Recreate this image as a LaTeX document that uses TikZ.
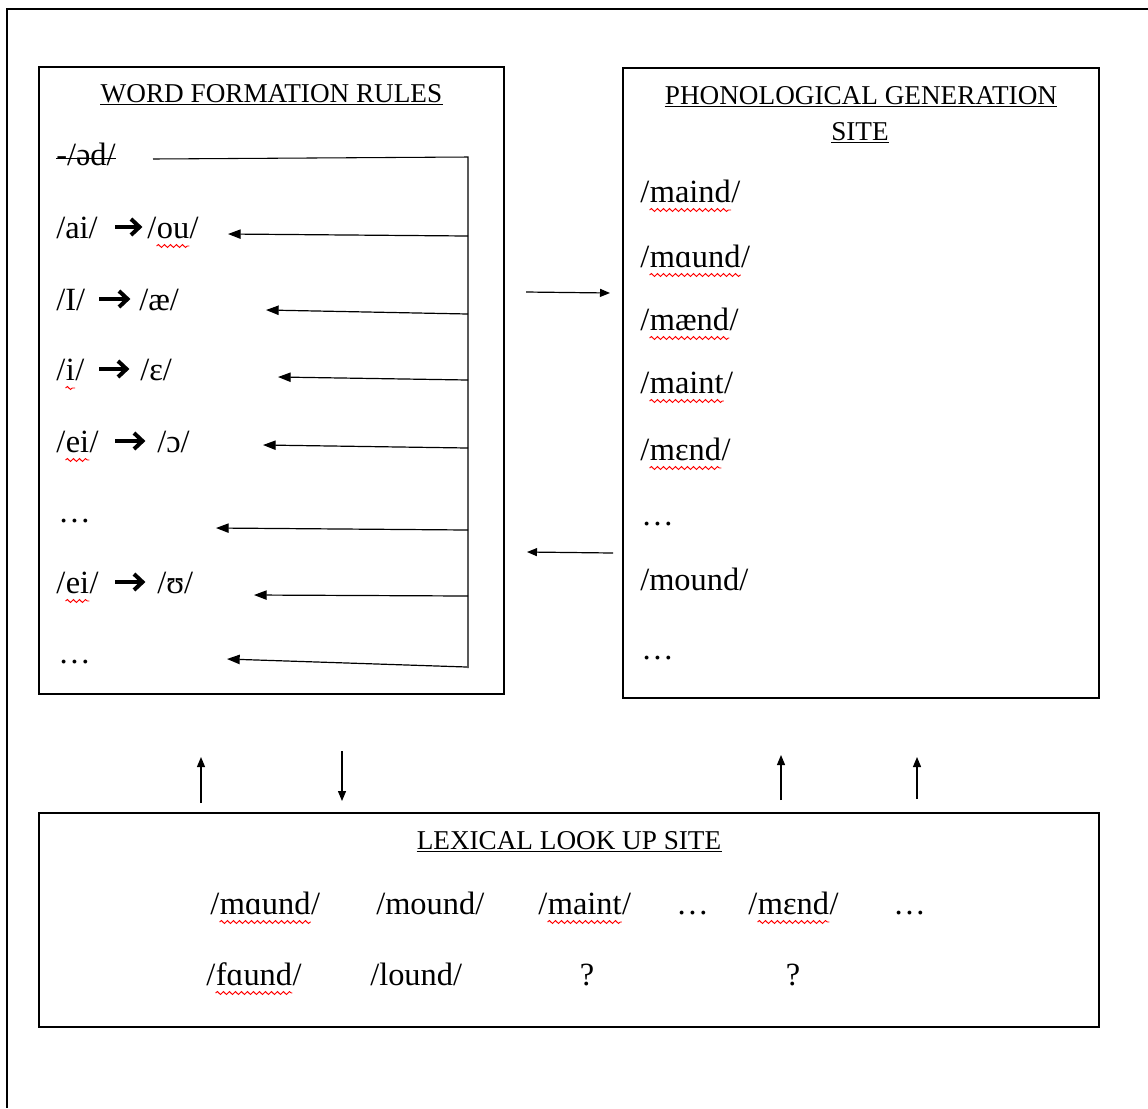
\documentclass[tikz,border=0pt]{standalone}
\usepackage{fontspec}
\setmainfont{Liberation Serif}
\usetikzlibrary{arrows.meta,fit,decorations.pathmorphing}
\newcommand\wv[1]{\draw[wave] ([yshift=-6pt]#1.base west) -- ([yshift=-6pt]#1.base east);}
\newcommand\ul[1]{\draw[plain] ([yshift=-2.2pt]#1.base west) -- ([yshift=-2.2pt]#1.base east);}
% thick text arrow glyph: x-start, x-end, y-centre (pixels)
\newcommand\tarr[3]{\draw[tshaft] (#1,#3) -- (#2-4,#3); \draw[thead] (#2-12,#3-8) -- (#2-3.5,#3) -- (#2-12,#3+8);}
\begin{document}
\begin{tikzpicture}[x=0.75pt,y=-0.75pt,
  box/.style={draw, line width=0.9pt, inner sep=0pt, rectangle},
  txt/.style={anchor=base west, inner sep=0pt, font=\fontsize{24.3}{28}\selectfont},
  ctxt/.style={anchor=base, inner sep=0pt, font=\fontsize{24.3}{28}\selectfont},
  ttl/.style={anchor=base, inner sep=0pt, font=\fontsize{20.4}{24}\selectfont},
  plain/.style={line width=0.8pt},
  tshaft/.style={line width=3pt},
  thead/.style={line width=3pt, miter limit=10},
  wave/.style={red, line width=0.7pt, decorate, decoration={snake, amplitude=1.1pt, segment length=4.5pt}},
  conn/.style={line width=0.9pt, -{Triangle[length=9.5pt,width=7pt]}},
  sconn/.style={line width=0.9pt, -{Triangle[length=7.5pt,width=6pt]}}]
\useasboundingbox (0,0) rectangle (1148,1108);
% outer frame (cropped)
\draw[line width=0.9pt] (1148,9) -- (7,9) -- (7,1108);

% boxes
\node[box, fit={(39,67) (504,694)}] (wfr) {};
\node[box, fit={(623,68) (1099,698)}] (pgs) {};
\node[box, fit={(39,813) (1099,1027)}] (lls) {};

% WFR contents
\node[ttl] (wfrt) at (271.5,102) {WORD FORMATION RULES};
\ul{wfrt}
\node[txt] (r0) at (56,165) {-/əd/};
\draw[plain] ([yshift=5pt]r0.base west) -- ([yshift=5pt]r0.base east);
% line 1
\node[txt] (r1a) at (56,238) {/ai/};
\tarr{115}{143}{227}
\node[txt] (r1b) at (147,238) {/};
\node[txt] (r1) at (r1b.base east) {ou};
\node[txt] (r1c) at (r1.base east) {/};
\wv{r1}
% line 2
\node[txt] (r2a) at (56,310) {/I/};
\tarr{99}{131}{299}
\node[txt] (r2b) at (139,310) {/æ/};
% line 3
\node[txt] (r3a) at (56,380) {/};
\node[txt] (r3) at (r3a.base east) {i};
\node[txt] (r3c) at (r3.base east) {/};
\tarr{99}{130}{369}
\node[txt] (r3d) at (140,380) {/ɛ/};
\wv{r3}
% line 4
\node[txt] (r4a) at (56,452) {/};
\node[txt] (r4) at (r4a.base east) {ei};
\node[txt] (r4c) at (r4.base east) {/};
\tarr{115}{146}{441}
\node[txt] (r4d) at (157,452) {/ɔ/};
\wv{r4}
\node[txt] (r5) at (58,522) {…};
% line 6
\node[txt] (r6a) at (56,593) {/};
\node[txt] (r6) at (r6a.base east) {ei};
\node[txt] (r6c) at (r6.base east) {/};
\tarr{115}{146}{582}
\node[txt] (r6d) at (157,593) {/ʊ/};
\wv{r6}
\node[txt] (r7) at (58,663) {…};

% bus
\coordinate (ls) at (153,159);
\coordinate (bt) at (468,157);
\coordinate (bb) at (468,668);
\draw[plain] (ls) -- (bt) -- (bb);
\coordinate (b1) at (468,236); \coordinate (t1) at (228,234);
\coordinate (b2) at (468,314); \coordinate (t2) at (266,310);
\coordinate (b3) at (468,380); \coordinate (t3) at (278,377);
\coordinate (b4) at (468,448); \coordinate (t4) at (263,445);
\coordinate (b5) at (468,530); \coordinate (t5) at (216,528);
\coordinate (b6) at (468,596); \coordinate (t6) at (254,595);
\coordinate (b7) at (467,667); \coordinate (t7) at (227,659);
\foreach \i in {1,...,7} {\draw[conn] (b\i) -- (t\i);}

% PGS contents
\node[ttl] (pgst1) at (861,104) {PHONOLOGICAL GENERATION};
\ul{pgst1}
\node[ttl] (pgst2) at (860,140) {SITE};
\ul{pgst2}
\node[txt] (p1a) at (640,202) {/};
\node[txt] (p1) at (p1a.base east) {maind};
\node[txt] (p1c) at (p1.base east) {/};
\wv{p1}
\node[txt] (p2a) at (640,267) {/};
\node[txt] (p2) at (p2a.base east) {mɑund};
\node[txt] (p2c) at (p2.base east) {/};
\wv{p2}
\node[txt] (p3a) at (640,330) {/};
\node[txt] (p3) at (p3a.base east) {mænd};
\node[txt] (p3c) at (p3.base east) {/};
\wv{p3}
\node[txt] (p4a) at (640,393) {/};
\node[txt] (p4) at (p4a.base east) {maint};
\node[txt] (p4c) at (p4.base east) {/};
\wv{p4}
\node[txt] (p5a) at (640,460) {/};
\node[txt] (p5) at (p5a.base east) {mɛnd};
\node[txt] (p5c) at (p5.base east) {/};
\wv{p5}
\node[txt] (p6) at (641,525) {…};
\node[txt] (p7) at (640,590) {/mound/};
\node[txt] (p8) at (641,659) {…};

% between WFR and PGS
\coordinate (m1s) at (526,292); \coordinate (m1e) at (610,293);
\coordinate (m2s) at (613,553); \coordinate (m2e) at (527,552);
\draw[sconn] (m1s) -- (m1e);
\draw[sconn] (m2s) -- (m2e);

% vertical arrows
\coordinate (v1s) at (201,803); \coordinate (v1e) at (201,757);
\coordinate (v2s) at (342,751); \coordinate (v2e) at (342,801);
\coordinate (v3s) at (781,800); \coordinate (v3e) at (781,755);
\coordinate (v4s) at (917,799); \coordinate (v4e) at (917,757);
\draw[sconn] (v1s) -- (v1e);
\draw[sconn] (v2s) -- (v2e);
\draw[sconn] (v3s) -- (v3e);
\draw[sconn] (v4s) -- (v4e);

% Lexical look up site
\node[ttl] (llst) at (569,849) {LEXICAL LOOK UP SITE};
\ul{llst}
\node[txt] (l1a) at (210,914) {/};
\node[txt] (l1) at (l1a.base east) {mɑund};
\node[txt] (l1c) at (l1.base east) {/};
\wv{l1}
\node[txt] (l2) at (376,914) {/mound/};
\node[txt] (l3a) at (538,914) {/};
\node[txt] (l3) at (l3a.base east) {maint};
\node[txt] (l3c) at (l3.base east) {/};
\wv{l3}
\node[txt] (l4) at (676,914) {…};
\node[txt] (l5a) at (748,914) {/};
\node[txt] (l5) at (l5a.base east) {mɛnd};
\node[txt] (l5c) at (l5.base east) {/};
\wv{l5}
\node[txt] (l6) at (893,914) {…};
\node[txt] (l7a) at (206,985) {/};
\node[txt] (l7) at (l7a.base east) {fɑund};
\node[txt] (l7c) at (l7.base east) {/};
\wv{l7}
\node[txt] (l8) at (370,985) {/lound/};
\node[ctxt] (l9) at (587,985) {?};
\node[ctxt] (l10) at (793,985) {?};
\end{tikzpicture}
\end{document}
